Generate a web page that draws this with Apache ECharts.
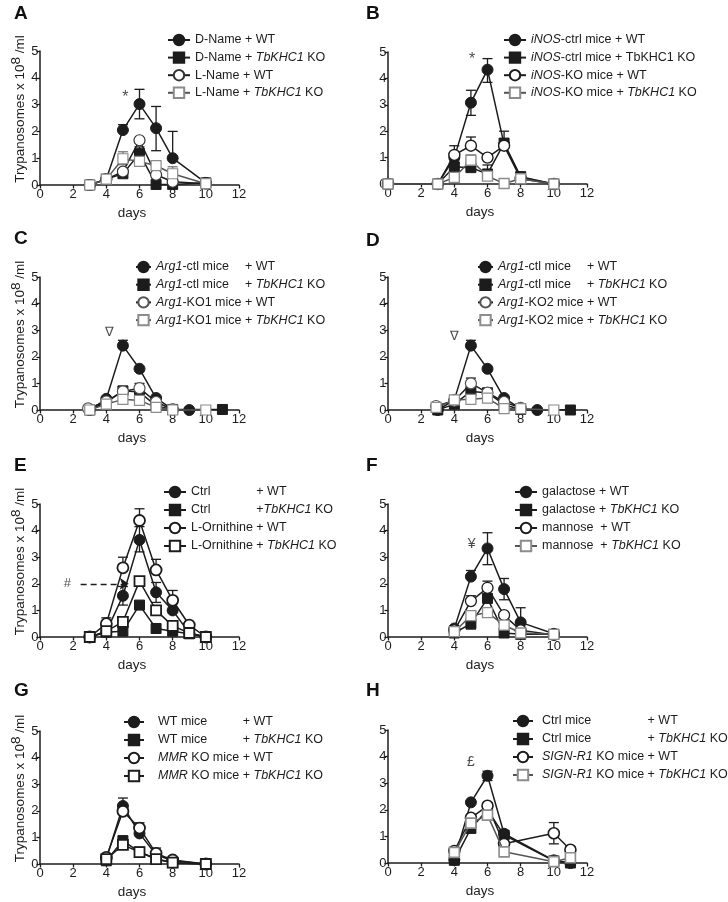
<!DOCTYPE html>
<html><head><meta charset="utf-8">
<script src="https://cdn.jsdelivr.net/npm/echarts@6/dist/echarts.min.js"></script>
<style>html,body{margin:0;padding:0;background:#fff}#c{width:728px;height:902px}</style>
</head><body><div id="c"></div>
<script>
// ---------------- DATA ----------------
// x ticks / y ticks
const X_TICKS = [0, 2, 4, 6, 8, 10, 12];
const Y_TICKS = [0, 1, 2, 3, 4, 5];
// Panel A
const A_DName_WT = [[3,0],[4,0.22],[5,2.05],[6,3.02],[7,2.12],[8,1.0],[10,0.08]];
const A_DName_KO = [[3,0],[4,0.22],[5,0.42],[6,1.17],[7,0.02],[8,0.02],[10,0.08]];
const A_LName_WT = [[3,0],[4,0.22],[5,0.5],[6,1.67],[7,0.38],[8,0.12],[10,0.05]];
const A_LName_KO = [[3,0],[4,0.22],[5,0.98],[6,0.88],[7,0.72],[8,0.42],[10,0.05]];
const A_DName_WT_err = [[5,2.25,2.05],[6,3.57,2.47],[7,2.93,1.28],[8,2.0,1.0]];
const A_DName_KO_err = [[6,1.42,1.17]];
const A_LName_KO_err = [[5,1.24,0.76],[8,0.68,0.42]];
// Panel B
const B_ctl_WT = [[0,0],[3,0],[4,1.0],[5,3.08],[6,4.33],[7,1.5],[8,0.25],[10,0]];
const B_ctl_KO = [[0,0],[3,0],[4,0.65],[5,0.62],[6,0.38],[7,1.55],[8,0.28],[10,0]];
const B_ko_WT  = [[0,0],[3,0],[4,1.1],[5,1.45],[6,1.0],[7,1.45],[8,0.2],[10,0]];
const B_ko_KO  = [[0,0],[3,0],[4,0.25],[5,0.9],[6,0.3],[7,0.02],[8,0.2],[10,0]];
const B_ctl_WT_err = [[5,3.55,2.6],[6,4.75,3.85]];
const B_ctl_KO_err = [[4,0.95,0.65],[6,0.72,0.38],[7,2.0,1.55]];
const B_ko_WT_err  = [[4,1.45,1.1],[5,1.78,1.45]];
const B_ko_KO_err  = [[5,1.1,0.9]];
// Panel C
const C_ctl_WT = [[3,0],[4,0.42],[5,2.42],[6,1.55],[7,0.45],[8,0.02],[9,0]];
const C_ctl_KO = [[3,0],[4,0.3],[5,0.72],[6,0.68],[7,0.15],[8,0.02],[11,0.02]];
const C_ko_WT  = [[2.9,0.06],[4,0.32],[5,0.7],[6,0.82],[7,0.3],[8,0.02]];
const C_ko_KO  = [[3,0],[4,0.22],[5,0.4],[6,0.36],[7,0.1],[8,0],[10,0]];
const C_ctl_WT_err = [[5,2.62,2.42]];
const C_ctl_KO_err = [[5,0.88,0.72]];
const C_ko_WT_err  = [[6,1.0,0.82]];
// Panel D
const D_ctl_WT = [[3,0],[4,0.38],[5,2.42],[6,1.55],[7,0.45],[8,0.05],[9,0]];
const D_ctl_KO = [[3,0],[4,0.22],[5,0.7],[6,0.65],[7,0.2],[8,0.02],[11,0]];
const D_ko_WT  = [[2.9,0.15],[4,0.35],[5,1.0],[6,0.65],[7,0.3],[8,0.08]];
const D_ko_KO  = [[2.9,0.1],[4,0.38],[5,0.4],[6,0.45],[7,0.05],[8,0.05],[10,0]];
const D_ctl_WT_err = [[5,2.62,2.42]];
const D_ctl_KO_err = [[6,0.75,0.65]];
const D_ko_WT_err  = [[5,1.2,1.0]];
// Panel E
const E_ctrl_WT = [[3,0],[4,0.2],[5,1.55],[6,3.65],[7,1.68],[8,1.0],[9,0.15],[10,0]];
const E_ctrl_KO = [[3,0],[4,0.18],[5,0.22],[6,1.2],[7,0.32],[8,0.22],[9,0.12],[10,0]];
const E_orn_WT  = [[3,0],[4,0.5],[5,2.6],[6,4.38],[7,2.52],[8,1.38],[9,0.45],[10,0]];
const E_orn_KO  = [[3,0],[4,0.22],[5,0.57],[6,2.1],[7,1.0],[8,0.42],[9,0.15],[10,0]];
const E_ctrl_WT_err = [[5,1.9,1.2],[6,4.15,3.2],[7,2.05,1.3],[8,1.25,1.0]];
const E_ctrl_KO_err = [[6,1.32,1.2]];
const E_orn_WT_err  = [[4,0.72,0.5],[5,3.0,2.6],[6,4.82,4.38],[7,2.92,2.52],[8,1.75,1.38]];
const E_orn_KO_err  = [[6,2.25,2.1]];
// Panel F
const F_gal_WT = [[4,0.32],[5,2.27],[6,3.33],[7,1.8],[8,0.55],[10,0.12]];
const F_gal_KO = [[4,0.15],[5,0.5],[6,1.45],[7,0.15],[8,0.1],[10,0.1]];
const F_man_WT = [[4,0.25],[5,1.35],[6,1.85],[7,0.82],[8,0.25],[10,0.08]];
const F_man_KO = [[4,0.2],[5,0.8],[6,0.92],[7,0.45],[8,0.15],[10,0.1]];
const F_gal_WT_err = [[5,2.5,2.27],[6,3.92,2.72],[7,2.2,1.4],[8,1.1,0.55]];
const F_gal_KO_err = [[5,0.5,0.3]];
const F_man_WT_err = [[5,1.55,1.35],[6,2.1,1.85]];
// Panel G
const G_wt_WT  = [[4,0.2],[5,2.18],[6,1.15],[7,0.35],[8,0.12],[10,0]];
const G_wt_KO  = [[4,0.12],[5,0.88],[6,0.45],[7,0.2],[8,0.05],[10,0]];
const G_mmr_WT = [[4,0.25],[5,1.98],[6,1.35],[7,0.4],[8,0.15],[10,0]];
const G_mmr_KO = [[4,0.18],[5,0.72],[6,0.45],[7,0.18],[8,0.05],[10,0]];
const G_wt_WT_err  = [[5,2.48,2.18]];
const G_mmr_WT_err = [[6,1.55,1.35],[7,0.6,0.4]];
// Panel H
const H_ctl_WT  = [[4,0.12],[5,2.28],[6,3.28],[7,1.1],[10,0.1],[11,0]];
const H_ctl_KO  = [[4,0.1],[5,1.3],[6,2.0],[7,1.05],[10,0.08],[11,0]];
const H_sign_WT = [[4,0.45],[5,1.7],[6,2.15],[7,0.72],[10,1.12],[11,0.5]];
const H_sign_KO = [[4,0.4],[5,1.5],[6,1.8],[7,0.42],[10,0.05],[11,0.2]];
const H_ctl_WT_err  = [[6,3.45,3.1]];
const H_sign_WT_err = [[6,2.25,2.15],[10,1.52,0.72],[11,0.62,0.5]];
// Annotations [x, y, text, fontSize]
const ANNOT = {A:[[5.15,3.25,'*',16]], B:[[5.07,4.7,'*',16]], C:[[4.2,2.9,'∇',13]], D:[[4.0,2.75,'∇',13]],
               E:[[1.65,2.0,'#',13]], F:[[5.05,3.5,'¥',14]], G:[], H:[[5.0,3.8,'£',14]]};
const E_ARROW = [[2.45,2.0],[5.35,2.0]];
// Legend texts (rich-text)
const LEG = {
 A:['{n|D-Name + WT}','{n|D-Name + }{i|TbKHC1}{n| KO}','{n|L-Name + WT}','{n|L-Name + }{i|TbKHC1}{n| KO}'],
 B:['{i|iNOS}{n|-ctrl mice + WT}','{i|iNOS}{n|-ctrl mice + TbKHC1 KO}','{i|iNOS}{n|-KO mice + WT}','{i|iNOS}{n|-KO mice + }{i|TbKHC1}{n| KO}'],
 C:['{i|Arg1}{wC|-ctl mice}{n|+ WT}','{i|Arg1}{wC|-ctl mice}{n|+ }{i|TbKHC1}{n| KO}','{i|Arg1}{n|-KO1 mice + WT}','{i|Arg1}{n|-KO1 mice + }{i|TbKHC1}{n| KO}'],
 D:['{i|Arg1}{wD|-ctl mice}{n|+ WT}','{i|Arg1}{wD|-ctl mice}{n|+ }{i|TbKHC1}{n| KO}','{i|Arg1}{n|-KO2 mice + WT}','{i|Arg1}{n|-KO2 mice + }{i|TbKHC1}{n| KO}'],
 E:['{wE|Ctrl}{n|+ WT}','{wE|Ctrl}{n|+}{i|TbKHC1}{n| KO}','{n|L-Ornithine + WT}','{n|L-Ornithine + }{i|TbKHC1}{n| KO}'],
 F:['{n|galactose + WT}','{n|galactose + }{i|TbKHC1}{n| KO}','{n|mannose  + WT}','{n|mannose  + }{i|TbKHC1}{n| KO}'],
 G:['{g| }{wG|WT mice}{n|+ WT}','{g| }{wG|WT mice}{n|+ }{i|TbKHC1}{n| KO}','{g| }{i|MMR}{n| KO mice + WT}','{g| }{i|MMR}{n| KO mice + }{i|TbKHC1}{n| KO}'],
 H:['{h| }{wH|Ctrl mice}{n|+ WT}','{h| }{wH|Ctrl mice}{n|+ }{i|TbKHC1}{n| KO}','{h| }{i|SIGN-R1}{n| KO mice + WT}','{h| }{i|SIGN-R1}{n| KO mice + }{i|TbKHC1}{n| KO}']
};
const SERIES = {
 A:[[A_DName_WT,A_DName_WT_err],[A_DName_KO,A_DName_KO_err],[A_LName_WT,[]],[A_LName_KO,A_LName_KO_err]],
 B:[[B_ctl_WT,B_ctl_WT_err],[B_ctl_KO,B_ctl_KO_err],[B_ko_WT,B_ko_WT_err],[B_ko_KO,B_ko_KO_err]],
 C:[[C_ctl_WT,C_ctl_WT_err],[C_ctl_KO,C_ctl_KO_err],[C_ko_WT,C_ko_WT_err],[C_ko_KO,[]]],
 D:[[D_ctl_WT,D_ctl_WT_err],[D_ctl_KO,D_ctl_KO_err],[D_ko_WT,D_ko_WT_err],[D_ko_KO,[]]],
 E:[[E_ctrl_WT,E_ctrl_WT_err],[E_ctrl_KO,E_ctrl_KO_err],[E_orn_WT,E_orn_WT_err],[E_orn_KO,E_orn_KO_err]],
 F:[[F_gal_WT,F_gal_WT_err],[F_gal_KO,F_gal_KO_err],[F_man_WT,F_man_WT_err],[F_man_KO,[]]],
 G:[[G_wt_WT,G_wt_WT_err],[G_wt_KO,[]],[G_mmr_WT,G_mmr_WT_err],[G_mmr_KO,[]]],
 H:[[H_ctl_WT,H_ctl_WT_err],[H_ctl_KO,[]],[H_sign_WT,H_sign_WT_err],[H_sign_KO,[]]]
};

// ---------------- LAYOUT / STYLE ----------------
const FONT = '"Liberation Sans", Arial, Helvetica, sans-serif';
const INK = '#1c1c1c';
const GREY = '#8c8c8c';
const PANELS = ['A','B','C','D','E','F','G','H'];
const GRID = {
 A:{left:40,top:51,width:199,height:134}, B:{left:388,top:52,width:199,height:132},
 C:{left:40,top:277,width:199,height:133}, D:{left:388,top:277,width:199,height:133},
 E:{left:40,top:504,width:199,height:133}, F:{left:388,top:504,width:199,height:133},
 G:{left:40,top:731,width:199,height:133}, H:{left:388,top:730,width:199,height:133}
};
const LEGPOS = {
 A:{left:167,top:33.5,iw:22,gap:4.6}, B:{left:503,top:33.5,iw:22,gap:4.6},
 C:{left:135,top:260.5,iw:15,gap:4.7}, D:{left:477,top:260.5,iw:15,gap:4.7},
 E:{left:163,top:485.5,iw:22,gap:5}, F:{left:514,top:485.5,iw:22,gap:5},
 G:{left:123,top:715.5,iw:20,gap:5}, H:{left:512,top:714.5,iw:20,gap:5}
};
const LABELPOS = {A:[14,4],B:[366,4],C:[14,229],D:[366,231],E:[14,456],F:[366,456],G:[14,681],H:[366,681]};
// open-marker edge colours per panel [open circle, open square]
const OPEN = {A:['#333',GREY],B:[INK,GREY],C:['#555',GREY],D:['#555',GREY],E:[INK,INK],F:[INK,GREY],G:[INK,INK],H:[INK,GREY]};
const OPENW = {A:1.2,B:1.4,C:1.2,D:1.2,E:1.8,F:1.3,G:1.8,H:1.6};

const cv = document.createElement('canvas').getContext('2d');
function tw(t, it){ cv.font = (it?'italic ':'') + '12.5px ' + FONT; return cv.measureText(t).width; }
const base = {fontSize:12.5, fontFamily:FONT, color:INK, lineHeight:13};
const RICH = {
 n: Object.assign({}, base),
 i: Object.assign({}, base, {fontStyle:'italic'}),
 wC: Object.assign({}, base, {width: tw('-KO1 mice ')}),
 wD: Object.assign({}, base, {width: tw('-KO2 mice ')}),
 wE: Object.assign({}, base, {width: tw('L-Ornithine ')}),
 wG: Object.assign({}, base, {width: tw('MMR',true) + tw(' KO mice ')}),
 wH: Object.assign({}, base, {width: tw('SIGN-R1',true) + tw(' KO mice ')}),
 g: Object.assign({}, base, {width: 9}),
 h: Object.assign({}, base, {width: 4})
};

const option = {animation:false, grid:[], xAxis:[], yAxis:[], series:[], legend:[], graphic:[]};
const axisCommon = {
 axisLine:{show:true, lineStyle:{color:INK, width:1.5}},
 axisTick:{show:true, inside:false, length:3.5, lineStyle:{color:INK, width:1.3}},
 splitLine:{show:false},
 axisLabel:{color:INK, fontSize:13, fontFamily:FONT}
};

PANELS.forEach((P, gi) => {
  option.grid.push(Object.assign({}, GRID[P]));
  option.xAxis.push(Object.assign({}, axisCommon, {
    type:'value', gridIndex:gi, min:X_TICKS[0], max:X_TICKS[X_TICKS.length-1], interval:X_TICKS[1]-X_TICKS[0],
    name:'days', nameLocation:'middle', nameGap:21,
    nameTextStyle:{color:INK, fontSize:13.5, fontFamily:FONT, padding:[0,15,0,0]},
    axisLabel:Object.assign({}, axisCommon.axisLabel, {margin:3})
  }));
  const left = gi % 2 === 0;
  const y = Object.assign({}, axisCommon, {
    type:'value', gridIndex:gi, min:Y_TICKS[0], max:Y_TICKS[Y_TICKS.length-1], interval:Y_TICKS[1]-Y_TICKS[0],
    axisLabel:Object.assign({}, axisCommon.axisLabel, {margin:1.5})
  });
  if (left) {
    y.name = '{a|Trypanosomes x 10}{s|8}{a| /ml}';
    y.nameLocation = 'middle';
    y.nameGap = 15;
    y.nameRotate = 90;
    y.nameTextStyle = {color:INK, fontSize:13.5, fontFamily:FONT, padding:[0,0,0,18],
      rich:{a:{fontSize:13.5, fontFamily:FONT, color:INK, lineHeight:15, padding:[7,0,0,0]},
            s:{fontSize:13.5, fontFamily:FONT, color:INK, lineHeight:15, verticalAlign:'top'}}};
  }
  option.yAxis.push(y);

  const kinds = [['circle',true],['rect',true],['circle',false],['rect',false]];
  const names = [];
  SERIES[P].forEach((pair, k) => {
    const [data, err] = pair;
    const [sym, filled] = kinds[k];
    const edge = filled ? INK : (sym === 'circle' ? OPEN[P][0] : OPEN[P][1]);
    const lineColor = (!filled && edge === GREY) ? '#555' : INK;
    const name = P + k;
    names.push(name);
    if (err.length) {
      option.series.push({type:'custom', xAxisIndex:gi, yAxisIndex:gi, silent:true, z:1, data:err,
        renderItem:(params, api) => {
          const x = api.value(0), hi = api.value(1), lo = api.value(2);
          const a = api.coord([x, hi]), b = api.coord([x, lo]);
          const st = {stroke: filled ? INK : (edge === GREY ? '#777' : INK), lineWidth:1.3};
          const cw = 5;
          return {type:'group', children:[
            {type:'line', shape:{x1:a[0],y1:a[1],x2:b[0],y2:b[1]}, style:st},
            {type:'line', shape:{x1:a[0]-cw,y1:a[1],x2:a[0]+cw,y2:a[1]}, style:st},
            {type:'line', shape:{x1:b[0]-cw,y1:b[1],x2:b[0]+cw,y2:b[1]}, style:st}
          ]};
        }});
    }
    option.series.push({
      type:'line', name, xAxisIndex:gi, yAxisIndex:gi, data,
      symbol:sym, symbolSize: sym === 'circle' ? 11 : 10, showSymbol:true, z:2 + k*0.1,
      lineStyle:{color:lineColor, width:1.5},
      itemStyle:{color: filled ? INK : '#fff', borderColor: edge, borderWidth: filled ? 1 : OPENW[P]},
      emphasis:{disabled:true}, clip:false
    });
  });
  // annotations (text labels placed at data coordinates)
  const ann = {type:'scatter', xAxisIndex:gi, yAxisIndex:gi, silent:true, z:5, symbol:'circle', symbolSize:0,
    itemStyle:{color:'rgba(0,0,0,0)'},
    data: ANNOT[P].map(a => ({value:[a[0], a[1]], label:{formatter:a[2], fontSize:a[3]}})),
    label:{show:true, position:'inside', color:INK, fontSize:13, fontFamily:FONT}};
  option.series.push(ann);
  if (P === 'E') {
    option.series.push({type:'line', xAxisIndex:gi, yAxisIndex:gi, silent:true, z:5, data:[],
      markLine:{silent:true, symbol:['none','arrow'], symbolSize:9, animation:false,
        itemStyle:{color:INK},
        lineStyle:{color:INK, width:1.3, type:[6,4], opacity:1}, label:{show:false},
        data:[[{coord:E_ARROW[0]},{coord:E_ARROW[1]}]]}});
  }

  const lp = LEGPOS[P];
  option.legend.push({
    orient:'vertical', left:lp.left, top:lp.top, itemWidth:lp.iw, itemHeight:13, itemGap:lp.gap,
    selectedMode:false, padding:0, data:names,
    formatter:(nm) => LEG[P][+nm.slice(1)],
    textStyle:{fontSize:12.5, fontFamily:FONT, color:INK, rich:RICH}
  });
  option.graphic.push({type:'text', left:LABELPOS[P][0], top:LABELPOS[P][1], silent:true,
    style:{text:P, font:'bold 19px ' + FONT, fill:'#111'}});
});

const chart = echarts.init(document.getElementById('c'), null, {renderer:'canvas'});
chart.setOption(option);
</script></body></html>
